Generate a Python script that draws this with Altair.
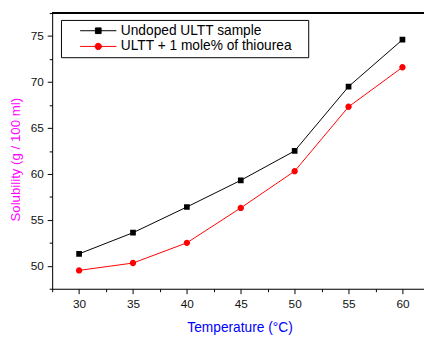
import altair as alt
import pandas as pd

temps = [30, 35, 40, 45, 50, 55, 60]
undoped = [51.3, 53.6, 56.4, 59.3, 62.5, 69.5, 74.6]
doped = [49.5, 50.3, 52.5, 56.3, 60.3, 67.3, 71.6]
series_names = ["Undoped ULTT sample", "ULTT + 1 mole% of thiourea"]
series_colors = ["#000000", "#FF0000"]
x_ticks = [27.5, 30, 32.5, 35, 37.5, 40, 42.5, 45, 47.5, 50, 52.5, 55, 57.5, 60]
y_ticks = [47.5, 50, 52.5, 55, 57.5, 60, 62.5, 65, 67.5, 70, 72.5, 75, 77.5]

rows = []
for name, vals in zip(series_names, [undoped, doped]):
    for t, v in zip(temps, vals):
        rows.append({"T": t, "S": v, "series": name})
df = pd.DataFrame(rows)

FONT = "Liberation Sans"
W, H = 379, 281

x = alt.X("T:Q", scale=alt.Scale(domain=[27.5, 62], nice=False, zero=False),
          axis=alt.Axis(values=x_ticks, grid=False, domainColor="black", tickColor="black",
                        tickSize={"condition": {"test": "datum.value % 5 != 0", "value": 3}, "value": 5},
                        labelExpr="datum.value % 5 == 0 ? datum.label : ''",
                        labelFont=FONT, labelFontSize=12, labelColor="#111", labelPadding=5,
                        title="Temperature (°C)", titleFont=FONT, titleFontSize=14,
                        titleFontWeight="normal", titleColor="#0000FF", titlePadding=12,
                        titleX=191))
y = alt.Y("S:Q", scale=alt.Scale(domain=[47.5, 77.5], nice=False, zero=False),
          axis=alt.Axis(values=y_ticks, grid=False, domainColor="black", tickColor="black",
                        tickSize={"condition": {"test": "datum.value % 5 != 0", "value": 3}, "value": 5},
                        labelExpr="datum.value % 5 == 0 ? datum.label : ''",
                        labelFont=FONT, labelFontSize=12, labelColor="#111", labelPadding=4,
                        title="Solubility (g / 100 ml)", titleFont=FONT, titleFontSize=13.5,
                        titleFontWeight="normal", titleColor="#FF00FF", titlePadding=8,
                        titleY=149))

# custom symbols: a legend line plus marker (line only shows in the legend, where stroke is on)
sq = "M-3.7,0H3.7M-0.58,-0.58H0.58V0.58H-0.58Z"
ci = "M-3.7,0H3.7M-0.65,0A0.65,0.65,0,1,0,0.65,0A0.65,0.65,0,1,0,-0.65,0Z"

legend = alt.Legend(
    title=".", titleOrient="right", titleColor="white", titleFontSize=10, titlePadding=10,
    orient="none", legendX=9, legendY=7, padding=4, symbolOffset=27,
    strokeColor="black", fillColor="white", labelFont=FONT, labelFontSize=14,
    labelColor="#000", labelOffset=16, rowPadding=2, symbolOpacity=1, symbolStrokeWidth=1,
    labelLimit=0, symbolSize=100)

cscale = alt.Scale(domain=series_names, range=series_colors)

lines = alt.Chart(df).mark_line(strokeWidth=1).encode(
    x=x, y=y, stroke=alt.Stroke("series:N", scale=cscale, legend=legend))
points = alt.Chart(df).mark_point(filled=True, opacity=1, size=100, strokeOpacity=0).encode(
    x=x, y=y,
    fill=alt.Fill("series:N", scale=cscale, legend=legend),
    stroke=alt.Stroke("series:N", scale=cscale, legend=legend),
    shape=alt.Shape("series:N", scale=alt.Scale(domain=series_names, range=[sq, ci]), legend=legend))
top = alt.Chart(df).mark_rule(color="black", strokeWidth=1).encode(
    x=alt.value(0), x2=alt.value(W), y=alt.value(0))

chart = alt.layer(lines, points, top).properties(
    width=W, height=H, autosize=alt.AutoSizeParams(type="none"),
    padding={"left": 45, "top": 2, "right": 0, "bottom": 46}
).configure_view(stroke=None).configure(background="white")

chart.save("out.html", embed_options={"renderer": "svg", "actions": False})
